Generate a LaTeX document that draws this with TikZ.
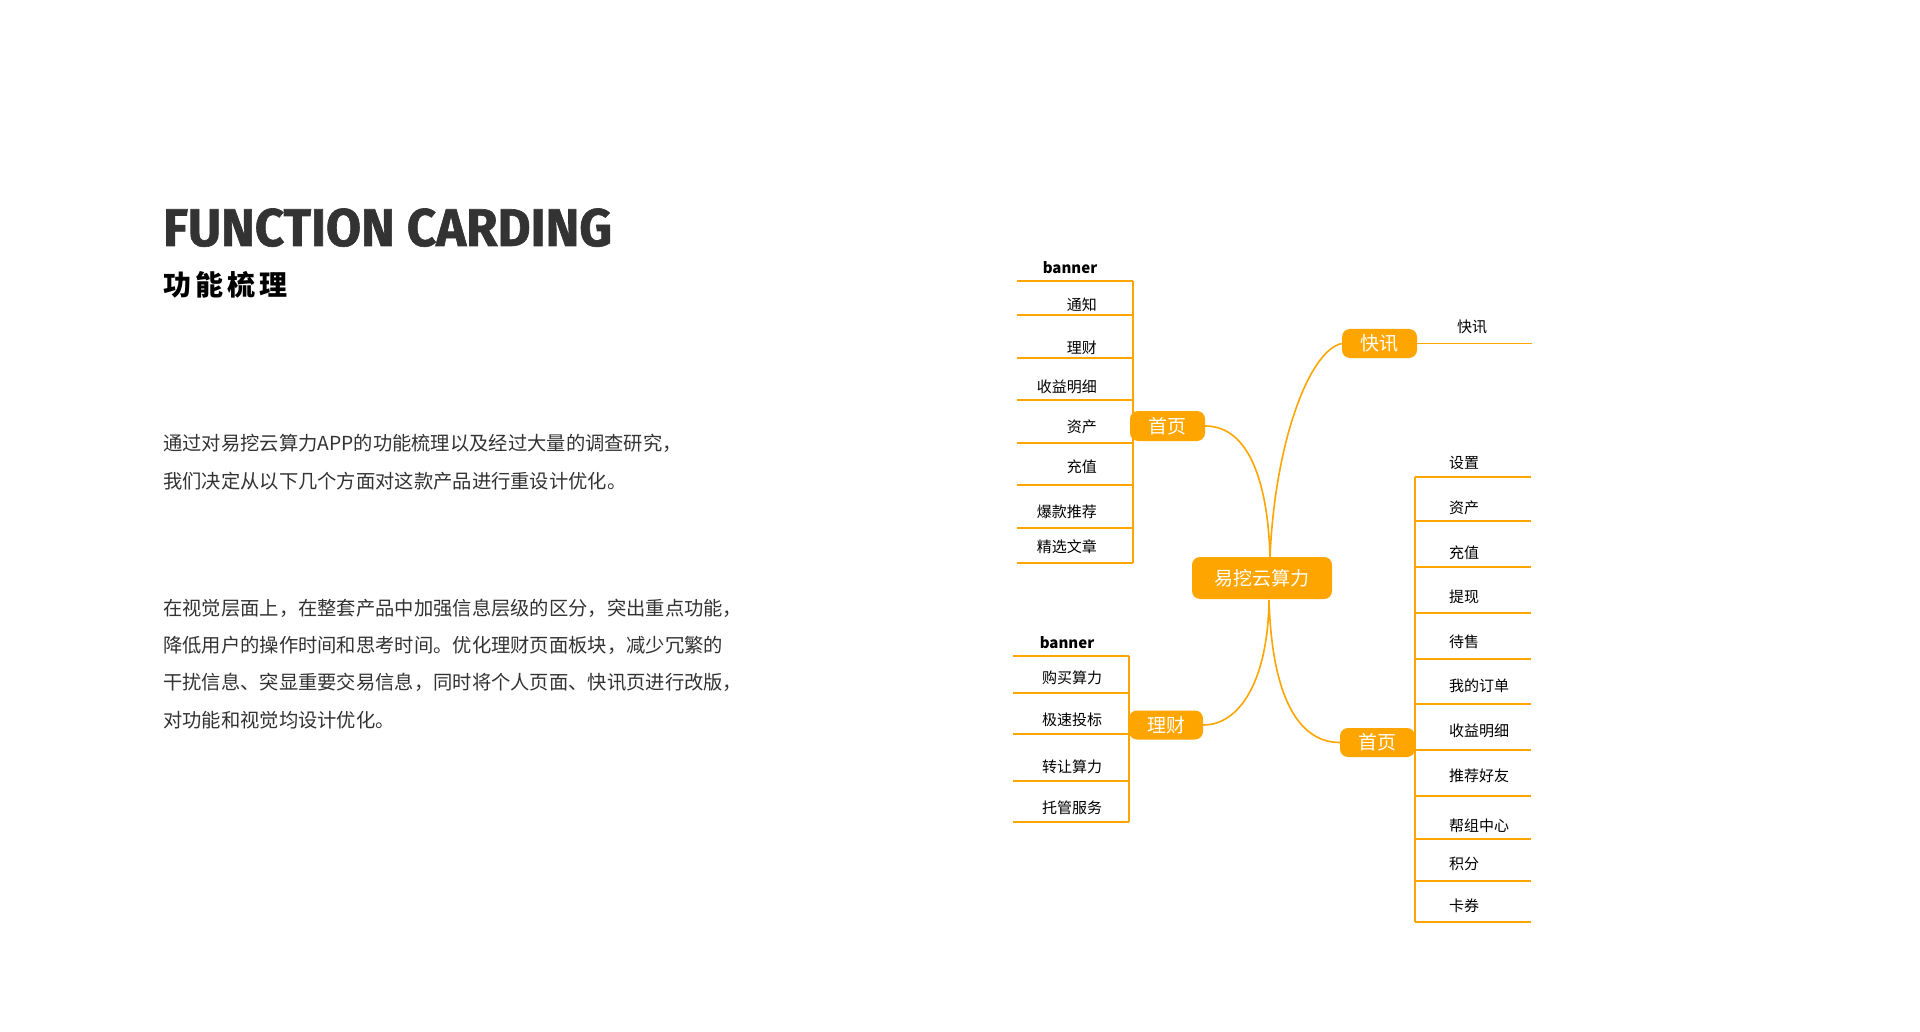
\documentclass[tikz,border=0pt]{standalone}
\usepackage{fontspec}
\setmainfont{Noto Sans CJK SC}
\newfontfamily\titlefont[FakeStretch=0.96, BoldFeatures={FakeBold=1.2}]{Fira Sans}
\definecolor{mmorange}{RGB}{255,165,0}
\definecolor{txtgray}{RGB}{51,51,51}
\tikzset{
  topic/.style={fill=mmorange, rounded corners=8pt, text=white, font=\fontsize{19}{19}\selectfont, minimum width=75pt, minimum height=30pt, inner sep=0pt},
  leaf/.style={font=\fontsize{15}{15}\selectfont, inner sep=0pt, text=black},
  branch/.style={draw=mmorange, line width=1.6pt},
  curvelink/.style={draw=mmorange, line width=1.6pt},
  para/.style={font=\fontsize{19.3}{19.3}\selectfont, text=txtgray, anchor=west, inner sep=0pt}
}
\begin{document}
\begin{tikzpicture}[x=1pt,y=-1pt]
\useasboundingbox[fill=white] (0,0) rectangle (1920,1032);

% title
\node[anchor=base west, inner sep=0pt, text=txtgray, font=\titlefont\bfseries\fontsize{53}{53}\selectfont] (title) at (163,246) {FUNCTION CARDING};
\node[anchor=west, inner sep=0pt, text=black, font=\bfseries\fontsize{28}{28}\selectfont\addfontfeature{LetterSpace=15}] (subtitle) at (163,285) {功能梳理};

% paragraphs
\node[para] (p1) at (163,443) {通过对易挖云算力APP的功能梳理以及经过大量的调查研究，};
\node[para] (p2) at (163,481) {我们决定从以下几个方面对这款产品进行重设计优化。};
\node[para] (p3) at (163,608) {在视觉层面上，在整套产品中加强信息层级的区分，突出重点功能，};
\node[para] (p4) at (163,645) {降低用户的操作时间和思考时间。优化理财页面板块，减少冗繁的};
\node[para] (p5) at (163,682) {干扰信息、突显重要交易信息，同时将个人页面、快讯页进行改版，};
\node[para] (p6) at (163,720) {对功能和视觉均设计优化。};

% central and topic nodes
\node[topic, minimum width=140pt, minimum height=42pt] (center) at (1262,578) {易挖云算力};
\node[topic] (homeL) at (1167.5,426) {首页};
\node[topic, minimum width=74pt, minimum height=29pt] (finance) at (1166,725) {理财};
\node[topic, minimum height=29pt] (news) at (1379.5,343.5) {快讯};
\node[topic, minimum height=29pt] (homeR) at (1377.5,742.5) {首页};

\coordinate (ctop) at (1270,557);
\coordinate (cbot) at (1269,600);

% curved connectors
\draw[curvelink] (homeL.east) .. controls (1250,426) and (1268,485) .. (ctop);
\draw[curvelink] (news.west) .. controls (1310,350) and (1275,440) .. (ctop);
\draw[curvelink] (cbot) .. controls (1268,680) and (1240,725) .. (finance.east);
\draw[curvelink] (cbot) .. controls (1272,700) and (1300,742.5) .. (homeR.west);

% left home tree
\coordinate (hLtop) at (1133,281);
\coordinate (hLbot) at (1133,563);
\draw[branch] (hLtop) -- (hLbot);
\foreach \y in {281,315,358,400,443,485,528,563} \draw[branch] (1017,\y) -- (1133,\y);
\node[leaf, font=\bfseries\fontsize{15}{15}\selectfont] (hLbanner) at (1070,268) {banner};
\foreach \t/\y [count=\i] in {通知/305,理财/348,收益明细/387,资产/427,充值/467,爆款推荐/512,精选文章/547}
  \node[leaf, anchor=east] (hL\i) at (1097,\y) {\t};

% finance tree
\coordinate (fTop) at (1129,656);
\coordinate (fBot) at (1129,822);
\draw[branch] (fTop) -- (fBot);
\foreach \y in {656,693,734,781,822} \draw[branch] (1013,\y) -- (1129,\y);
\node[leaf, font=\bfseries\fontsize{15}{15}\selectfont] (fbanner) at (1067,643) {banner};
\foreach \t/\y [count=\i] in {购买算力/678,极速投标/720,转让算力/767,托管服务/808}
  \node[leaf, anchor=west] (f\i) at (1042,\y) {\t};

% news
\coordinate (newsEnd) at (1532,343.5);
\draw[branch] (news.east) -- (newsEnd);
\node[leaf] (news1) at (1472,327) {快讯};

% right home tree
\coordinate (hRtop) at (1415,477);
\coordinate (hRbot) at (1415,922);
\draw[branch] (hRtop) -- (hRbot);
\foreach \y in {477,521,567,613,659,704,750,796,839,881,922} \draw[branch] (1415,\y) -- (1531,\y);
\foreach \t/\y [count=\i] in {设置/463,资产/508,充值/553,提现/597,待售/642,我的订单/686,收益明细/731,推荐好友/776,帮组中心/826,积分/864,卡券/906}
  \node[leaf, anchor=west] (hR\i) at (1449,\y) {\t};
\end{tikzpicture}
\end{document}
